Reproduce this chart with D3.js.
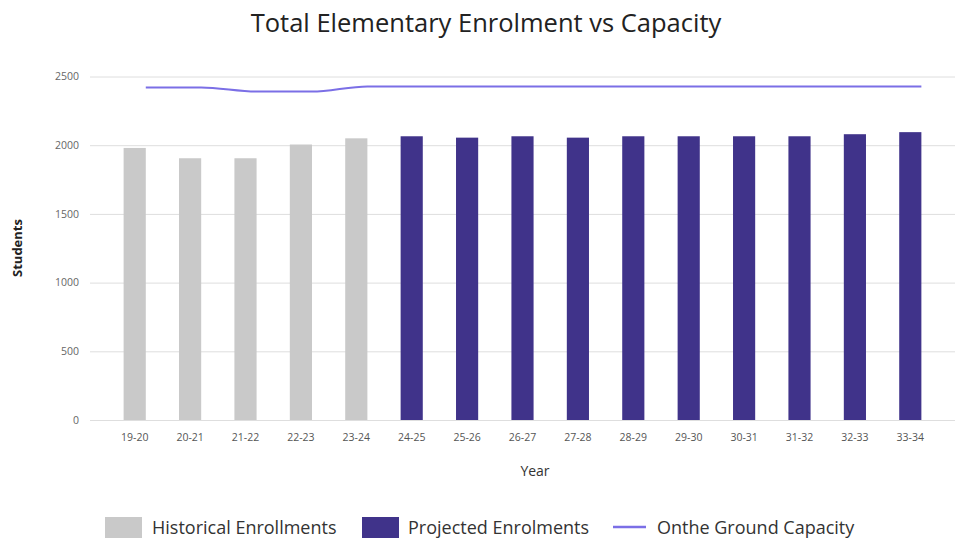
<!DOCTYPE html>
<html><head><meta charset="utf-8">
<script src="https://cdn.jsdelivr.net/npm/d3@7"></script>
<style>
body{margin:0;background:#fff;}
svg{display:block;font-family:"Open Sans","Noto Sans",sans-serif;}
</style></head>
<body>
<svg id="c" width="969" height="541"></svg>
<script>
const years = ["19-20","20-21","21-22","22-23","23-24","24-25","25-26","26-27","27-28","28-29","29-30","30-31","31-32","32-33","33-34"];
const historical = [1980, 1905, 1905, 2005, 2050, null, null, null, null, null, null, null, null, null, null];
const projected = [null, null, null, null, null, 2065, 2055, 2065, 2055, 2065, 2065, 2065, 2065, 2080, 2095];
const capacity = [2420, 2420, 2390, 2390, 2428, 2428, 2428, 2428, 2428, 2428, 2428, 2428, 2428, 2428, 2428];
const yTicks = [0, 500, 1000, 1500, 2000, 2500];
const legendItems = ["Historical Enrollments", "Projected Enrolments", "Onthe Ground Capacity"];

const svg = d3.select("#c");
const x = d3.scaleBand().domain(years).range([107, 938]).paddingInner(0.6).paddingOuter(0.3);
const y = d3.scaleLinear().domain([0, 2500]).range([420, 76.5]);
const grayC = "#c9c9c9", darkC = "#40338a", lineC = "#7b6fe6";

// title
svg.append("text").attr("x", 486).attr("y", 32).attr("text-anchor", "middle")
  .attr("font-size", 25.5).attr("fill", "#222").text("Total Elementary Enrolment vs Capacity");

// grid
const yAxis = d3.axisLeft(y).tickValues(yTicks).tickSize(-865).tickPadding(11).tickFormat(d3.format("d"));
const gy = svg.append("g").attr("transform", "translate(90,0)").call(yAxis);
gy.select(".domain").remove();
gy.selectAll(".tick line").attr("stroke", "#dedede").attr("stroke-width", 1);
gy.selectAll(".tick text").attr("font-size", 10.5).attr("fill", "#666").attr("font-family", "'Open Sans',sans-serif");

// bars
svg.append("g").selectAll("rect").data(years.map((d, i) => ({k: d, v: historical[i]})).filter(d => d.v != null))
  .join("rect").attr("x", d => x(d.k)).attr("width", x.bandwidth())
  .attr("y", d => y(d.v)).attr("height", d => y(0) - y(d.v)).attr("fill", grayC);
svg.append("g").selectAll("rect").data(years.map((d, i) => ({k: d, v: projected[i]})).filter(d => d.v != null))
  .join("rect").attr("x", d => x(d.k)).attr("width", x.bandwidth())
  .attr("y", d => y(d.v)).attr("height", d => y(0) - y(d.v)).attr("fill", darkC);

// line
const line = d3.line().x((d, i) => x(years[i]) + x.bandwidth()).y(d => y(d)).curve(d3.curveMonotoneX);
svg.append("path").datum(capacity).attr("d", line).attr("fill", "none").attr("stroke", lineC).attr("stroke-width", 2);

// x axis
const xAxis = d3.axisBottom(x).tickSize(0).tickPadding(14);
const gx = svg.append("g").attr("transform", "translate(0,420)").call(xAxis);
gx.select(".domain").remove();
gx.selectAll(".tick text").attr("font-size", 10.5).attr("fill", "#555").attr("font-family", "'Open Sans',sans-serif");

// axis titles
svg.append("text").attr("x", 535).attr("y", 476).attr("text-anchor", "middle").attr("font-size", 14).attr("fill", "#333").text("Year");
svg.append("text").attr("transform", "translate(22,248) rotate(-90)").attr("text-anchor", "middle")
  .attr("font-size", 13).attr("font-weight", "bold").attr("fill", "#222").text("Students");

// legend
const lg = svg.append("g");
lg.append("rect").attr("x", 105).attr("y", 517).attr("width", 37).attr("height", 21).attr("fill", grayC);
lg.append("text").attr("x", 152).attr("y", 534).attr("font-size", 18).attr("fill", "#333").text(legendItems[0]);
lg.append("rect").attr("x", 362).attr("y", 517).attr("width", 37).attr("height", 21).attr("fill", darkC);
lg.append("text").attr("x", 408).attr("y", 534).attr("font-size", 18).attr("fill", "#333").text(legendItems[1]);
lg.append("line").attr("x1", 613).attr("x2", 646).attr("y1", 527).attr("y2", 527).attr("stroke", lineC).attr("stroke-width", 2.5);
lg.append("text").attr("x", 657).attr("y", 534).attr("font-size", 18).attr("fill", "#333").text(legendItems[2]);
</script>
</body></html>
